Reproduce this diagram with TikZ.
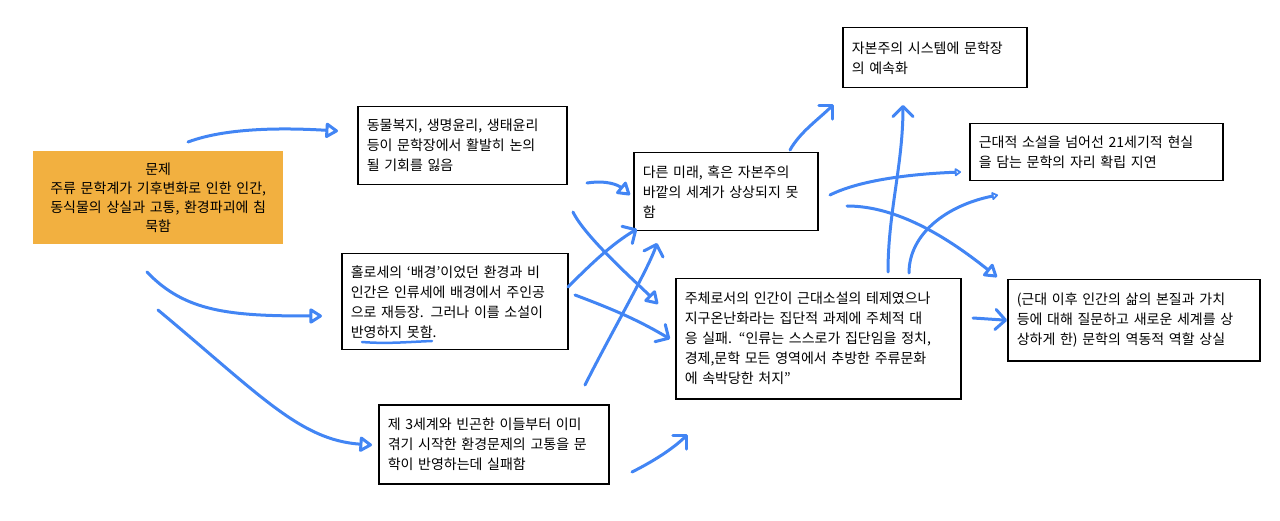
\documentclass[tikz,border=0pt]{standalone}
\usepackage{fontspec}
\usetikzlibrary{arrows.meta}
\newfontfamily\kr{Noto Sans CJK KR}

\definecolor{penblue}{HTML}{4285F4}
\definecolor{problemorange}{HTML}{F2B040}

\tikzset{
  card/.style={draw, line width=1.5pt, anchor=north west, align=left,
    inner xsep=9pt, inner ysep=0pt, font={\kr\fontsize{14}{20}\selectfont}},
  pen/.style={draw=penblue, line width=3pt, line cap=round, line join=round},
  tri/.style={pen, -{Triangle[open, round, length=14pt, width=17pt]}},
  smalltri/.style={pen, -{Triangle[open, round, length=7pt, width=9pt]}},
  barb/.style={pen, -{Straight Barb[round, length=10pt, width=20pt]}},
}

\begin{document}
\begin{tikzpicture}[x=1pt, y=-1pt]

\useasboundingbox (0,0) rectangle (1280,521);

% Problem box
\node[fill=problemorange, anchor=north west, text width=246pt, inner xsep=2pt,
  inner ysep=0pt, minimum height=93pt, align=center,
  font={\kr\fontsize{14}{19}\selectfont}] (problem) at (33,151)
  {문제\\주류 문학계가 기후변화로 인한 인간,\\동식물의 상실과 고통, 환경파괴에 침\\묵함};

% Consequence boxes
\node[card, text width=191pt, minimum height=78pt] (ethics) at (357,106)
  {동물복지, 생명윤리, 생태윤리\\등이 문학장에서 활발히 논의\\될 기회를 잃음};
\node[card, text width=208pt, minimum height=96pt] (holocene) at (341,253)
  {홀로세의 ‘배경’이었던 환경과 비\\인간은 인류세에 배경에서 주인공\\으로 재등장. 그러나 이를 소설이\\반영하지 못함.};
\node[card, text width=212pt, minimum height=79pt] (thirdworld) at (378,404)
  {제 3세계와 빈곤한 이들부터 이미\\겪기 시작한 환경문제의 고통을 문\\학이 반영하는데 실패함};
\node[card, text width=166pt, minimum height=78pt] (future) at (633,152)
  {다른 미래, 혹은 자본주의\\바깥의 세계가 상상되지 못\\함};
\node[card, text width=267pt, minimum height=120pt] (subject) at (675,278)
  {주체로서의 인간이 근대소설의 테제였으나\\지구온난화라는 집단적 과제에 주체적 대\\응 실패. “인류는 스스로가 집단임을 정치,\\경제,문학 모든 영역에서 추방한 주류문화\\에 속박당한 처지”};
\node[card, text width=166pt, minimum height=60pt] (capital) at (842,27)
  {자본주의 시스템에 문학장\\의 예속화};
\node[card, text width=235pt, minimum height=57pt] (novel) at (969,123)
  {근대적 소설을 넘어선 21세기적 현실\\을 담는 문학의 자리 확립 지연};
\node[card, text width=234pt, minimum height=81pt] (role) at (1007,279)
  {(근대 이후 인간의 삶의 본질과 가치\\등에 대해 질문하고 새로운 세계를 상\\상하게 한) 문학의 역동적 역할 상실};

% Stroke ends
\foreach \n/\x/\y in {a1/188/142, a2/338/131, b1/147/272, b2/322/316,
    c1/158/310, c2/372/445, d1/587/183, d2/630/195, e1/568/287, e2/637/229,
    f1/573/212, f2/658/304, g1/575/295, g2/670/339, h1/585/385, h2/657/243,
    i1/632/472, i2/688/434, j1/790/150, j2/834/104, k1/888/272, k2/903/105,
    l1/830/195, l2/961/172, m1/847/206, m2/997/277, n1/909/273, n2/998/195,
    o1/973/318, u1/362/342, u2/432/341} {
  \coordinate (\n) at (\x,\y);
}

% Strokes from the problem box
\draw[tri] (a1) .. controls +(40,-15) and +(-50,-3) .. (a2);
\draw[tri] (b1) .. controls +(38,40) and +(-92,0) .. (b2);
\draw[tri] (c1) .. controls +(102,85) and +(-72,-5) .. (c2);

% Strokes in the middle
\draw[tri] (d1) .. controls +(20,-3) and +(-12,-10) .. (d2);
\draw[barb] (e1) .. controls +(25,-25) and +(-25,15) .. (e2);
\draw[tri] (f1) .. controls +(12,25) and +(-22,-22) .. (f2);
\draw[barb] (g1) .. controls +(40,15) and +(-30,-18) .. (g2);
\draw[barb] (h1) .. controls +(25,-50) and +(-8,25) .. (h2);
\draw[barb] (i1) .. controls +(20,-10) and +(-15,15) .. (i2);

% Strokes on the right
\draw[barb] (j1) .. controls +(10,-18) and +(-15,15) .. (j2);
\draw[barb] (k1) .. controls +(0,-60) and +(0,60) .. (k2);
\draw[smalltri] (l1) .. controls +(30,-15) and +(-50,2) .. (l2);
\draw[tri] (m1) .. controls +(50,0) and +(-50,-40) .. (m2);
\draw[smalltri] (n1) .. controls +(0,-40) and +(-50,10) .. (n2);
\draw[barb] (o1) -- (role.west);

% Underline
\draw[pen, line width=2.5pt] (u1) .. controls +(25,2) and +(-25,1) .. (u2);

\end{tikzpicture}
\end{document}
